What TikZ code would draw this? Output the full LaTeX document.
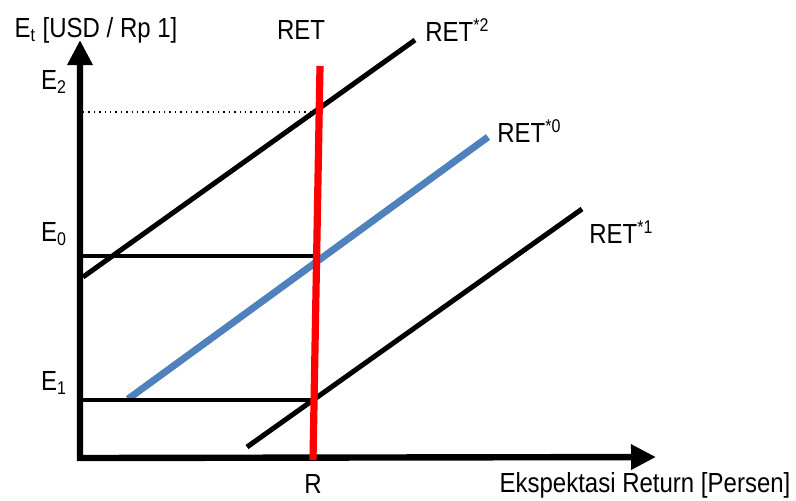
\documentclass[tikz,border=0pt]{standalone}
\usepackage{fontspec}
\setmainfont{Liberation Sans}
\usepackage{xcolor}
\usetikzlibrary{arrows.meta}
\definecolor{retblue}{RGB}{79,129,189}

\begin{document}
\begin{tikzpicture}[
    x=0.5pt, y=-0.5pt,
    axis/.style={line width=3.2pt, line join=miter,
      {Triangle[length=12.5pt,width=12pt]}-{Triangle[length=12.5pt,width=12pt]}},
    curve/.style={line width=2.5pt},
    level/.style={line width=2.4pt},
    lbl/.style={inner sep=0pt, font=\fontsize{12}{14}\selectfont,
      yscale=1.15, transform shape}
  ]
  \useasboundingbox (0,0) rectangle (796,500);

  % axes
  \coordinate (orig) at (80,458);
  \coordinate (ytip) at (80,40);
  \coordinate (xtip) at (656,457);
  \draw[axis] (ytip) -- (orig) -- (xtip);

  % curve end points
  \coordinate (ret2a) at (83,277);
  \coordinate (ret2b) at (415,40);
  \coordinate (ret0a) at (128,399);
  \coordinate (ret0b) at (488,137);
  \coordinate (ret1a) at (247,447);
  \coordinate (ret1b) at (582,209);
  \coordinate (reta) at (320,66);
  \coordinate (retb) at (313,460);
  \coordinate (e2a) at (83,112);
  \coordinate (e2b) at (318,112);
  \coordinate (e0a) at (80,256);
  \coordinate (e0b) at (314,256);
  \coordinate (e1a) at (80,400);
  \coordinate (e1b) at (312,400);

  \draw[dotted, line width=0.7pt] (e2a) -- (e2b);
  \draw[curve] (ret2a) -- (ret2b);
  \draw[curve, retblue, line width=3.5pt] (ret0a) -- (ret0b);
  \draw[curve] (ret1a) -- (ret1b);
  \draw[level] (e0a) -- (e0b);
  \draw[level] (e1a) -- (e1b);
  \draw[red, line width=3.6pt] (reta) -- (retb);

  % labels
  \node[lbl] (ylab) at (96,30) {E\textsubscript{t} [USD / Rp 1]};
  \node[lbl] (retlab) at (301,30) {RET};
  \node[lbl, anchor=west] (ret2lab) at (425,30) {RET\textsuperscript{*2}};
  \node[lbl, anchor=west] (ret0lab) at (497,131) {RET\textsuperscript{*0}};
  \node[lbl, anchor=west] (ret1lab) at (589,232) {RET\textsuperscript{*1}};
  \node[lbl] (e2lab) at (54,82) {E\textsubscript{2}};
  \node[lbl] (e0lab) at (54,234) {E\textsubscript{0}};
  \node[lbl] (e1lab) at (54,383) {E\textsubscript{1}};
  \node[lbl] (rlab) at (313,484) {R};
  \node[lbl] (xlab) at (645,485) {Ekspektasi Return [Persen]};
\end{tikzpicture}
\end{document}
